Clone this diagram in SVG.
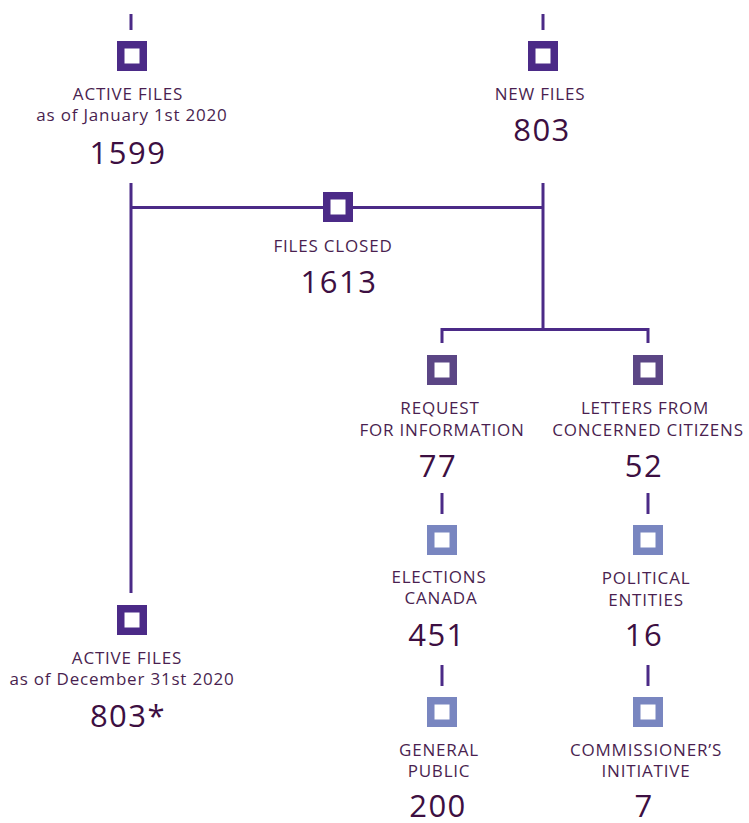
<svg xmlns="http://www.w3.org/2000/svg" width="749" height="823" viewBox="0 0 749 823">
<style>
.lbl{font-family:"Open Sans",Lato,"Liberation Sans",sans-serif;font-size:17px;letter-spacing:0.8px;fill:#4a1f50;text-anchor:middle}
.num{font-family:"Open Sans",Lato,"Liberation Sans",sans-serif;font-size:31px;letter-spacing:1.5px;fill:#3d0f42;text-anchor:middle}
.ln{stroke:#4b2a87;stroke-width:3;fill:none}
.s1{fill:#fff;stroke:#4b2a87;stroke-width:7.5}
.s2{fill:#fff;stroke:#5b4685;stroke-width:7.5}
.s3{fill:#fff;stroke:#7986c0;stroke-width:7.5}
</style>
<rect width="749" height="823" fill="#fff"/>
<g id="connectors">
<line class="ln" x1="131" y1="14" x2="131" y2="30"/>
<line class="ln" x1="543" y1="14" x2="543" y2="30"/>
<line class="ln" x1="131" y1="183" x2="131" y2="593"/>
<line class="ln" x1="543" y1="183" x2="543" y2="329"/>
<line class="ln" x1="131" y1="207.5" x2="543" y2="207.5"/>
<polyline class="ln" points="442,343 442,329.5 648,329.5 648,343"/>
<line class="ln" x1="442" y1="493" x2="442" y2="514"/>
<line class="ln" x1="648" y1="493" x2="648" y2="514"/>
<line class="ln" x1="442" y1="665" x2="442" y2="686"/>
<line class="ln" x1="648" y1="665" x2="648" y2="686"/>
</g>
<g id="active-start">
<rect class="s1" x="120.75" y="44.75" width="22.5" height="22.5"/>
<text class="lbl" x="128" y="100">ACTIVE FILES</text>
<text class="lbl" x="132" y="121">as of January 1st 2020</text>
<text class="num" x="128" y="164">1599</text>
</g>
<g id="new-files">
<rect class="s1" x="531.75" y="44.75" width="22.5" height="22.5"/>
<text class="lbl" x="540" y="100">NEW FILES</text>
<text class="num" x="542" y="141">803</text>
</g>
<g id="files-closed">
<rect class="s1" x="326.75" y="195.75" width="22.5" height="22.5"/>
<text class="lbl" x="333" y="252">FILES CLOSED</text>
<text class="num" x="339" y="293">1613</text>
</g>
<g id="request-info">
<rect class="s2" x="430.75" y="358.75" width="22.5" height="22.5"/>
<text class="lbl" x="440" y="414">REQUEST</text>
<text class="lbl" x="442" y="436">FOR INFORMATION</text>
<text class="num" x="438" y="477">77</text>
</g>
<g id="letters">
<rect class="s2" x="636.75" y="358.75" width="22.5" height="22.5"/>
<text class="lbl" x="645" y="414">LETTERS FROM</text>
<text class="lbl" x="648" y="436">CONCERNED CITIZENS</text>
<text class="num" x="644" y="477">52</text>
</g>
<g id="elections-canada">
<rect class="s3" x="430.75" y="528.75" width="22.5" height="22.5"/>
<text class="lbl" x="439" y="583">ELECTIONS</text>
<text class="lbl" x="441" y="604">CANADA</text>
<text class="num" x="437" y="646">451</text>
</g>
<g id="political-entities">
<rect class="s3" x="636.75" y="528.75" width="22.5" height="22.5"/>
<text class="lbl" x="646" y="584">POLITICAL</text>
<text class="lbl" x="646" y="606">ENTITIES</text>
<text class="num" x="644" y="646">16</text>
</g>
<g id="general-public">
<rect class="s3" x="430.75" y="700.75" width="22.5" height="22.5"/>
<text class="lbl" x="439" y="756">GENERAL</text>
<text class="lbl" x="439" y="777">PUBLIC</text>
<text class="num" x="438" y="817">200</text>
</g>
<g id="commissioner">
<rect class="s3" x="636.75" y="700.75" width="22.5" height="22.5"/>
<text class="lbl" x="646" y="756">COMMISSIONER’S</text>
<text class="lbl" x="646" y="777">INITIATIVE</text>
<text class="num" x="644" y="817">7</text>
</g>
<g id="active-end">
<rect class="s1" x="120.75" y="608.75" width="22.5" height="22.5"/>
<text class="lbl" x="127" y="664">ACTIVE FILES</text>
<text class="lbl" x="122" y="685">as of December 31st 2020</text>
<text class="num" x="128" y="727">803*</text>
</g>
</svg>
